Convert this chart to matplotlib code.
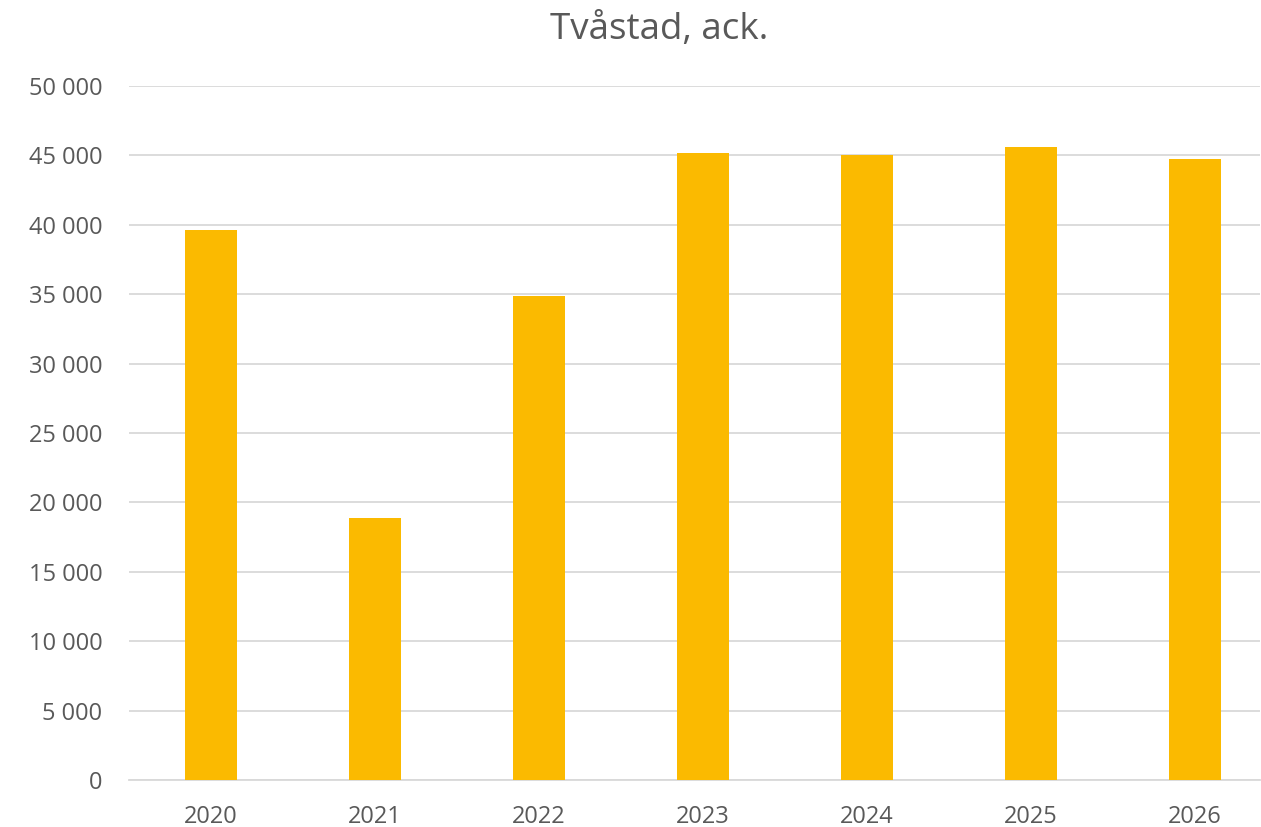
import matplotlib
matplotlib.use("Agg")
import matplotlib.pyplot as plt
from matplotlib.ticker import FuncFormatter

years = ["2020", "2021", "2022", "2023", "2024", "2025", "2026"]
values = [39650, 18870, 34900, 45180, 45000, 45590, 44750]
title = "Tvåstad, ack."

plt.rcParams['font.family'] = ['Open Sans', 'DejaVu Sans']
text_color = "#595959"

fig = plt.figure(figsize=(12.61, 8.27), dpi=100)
ax = fig.add_axes([129/1261, 1-780/827, (1260-129)/1261, (780-86)/827])

x = list(range(len(years)))
ax.bar(x, values, width=0.317, color="#FBBA00", zorder=3)

ax.set_ylim(0, 50000)
ax.set_xlim(-0.5, 6.396)
ax.set_yticks(range(0, 50001, 5000))
ax.yaxis.set_major_formatter(FuncFormatter(lambda v, p: f"{int(v):,}".replace(",", " ")))
ax.set_xticks(x)
ax.set_xticklabels(years)
ax.grid(axis="y", color="#D9D9D9", linewidth=1.3, zorder=0)
for s in ["top", "right", "left"]:
    ax.spines[s].set_visible(False)
ax.spines["bottom"].set_color("#D9D9D9")
ax.spines["bottom"].set_linewidth(1.3)
ax.tick_params(axis="both", length=0, labelsize=17, labelcolor=text_color)
ax.tick_params(axis="y", pad=19)
ax.tick_params(axis="x", pad=18)

fig.text(659/1261, 1-30/827, title, ha="center", va="center", fontsize=26.5, color=text_color)

fig.savefig("out.png", dpi=100)
